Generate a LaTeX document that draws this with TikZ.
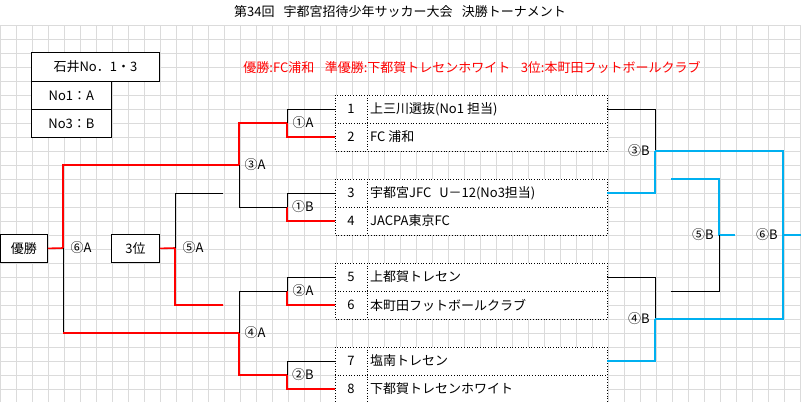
\documentclass[tikz,border=0pt]{standalone}
\usepackage{fontspec}
\setmainfont{Noto Sans CJK JP}
\begin{document}
\begin{tikzpicture}[x=1pt,y=-1pt,
  box/.style={draw=black,fill=white,line width=0.8pt,inner sep=0,anchor=north west,font=\fontsize{13}{14}\selectfont},
  lab/.style={font=\fontsize{13}{14}\selectfont,inner sep=1pt,fill=none},
  team/.style={font=\fontsize{13}{14}\selectfont,anchor=west,inner sep=1pt},
  blk/.style={line width=0.8pt,black},
  rd/.style={line width=1.6pt,red},
  bl/.style={line width=1.6pt,color={rgb,255:red,0;green,176;blue,240}}]
\useasboundingbox (0,0) rectangle (801,402);
\fill[white] (0,0) rectangle (801,402);
\foreach \x in {0,16,...,800} \draw[gray!28,line width=0.7pt] (\x,25) -- (\x,402);
\foreach \y in {25,39,...,402} \draw[gray!28,line width=0.7pt] (0,\y) -- (801,\y);
\fill[white] (0,0) rectangle (801,24.5);
\node[font=\fontsize{13}{14}\selectfont] (title) at (400,12) {第34回\hspace{0.7em}宇都宮招待少年サッカー大会\hspace{0.7em}決勝トーナメント};
% top-left boxes
\node[box,minimum width=128,minimum height=29] (ishii) at (31,52) {石井No．1・3};
\node[box,minimum width=80,minimum height=28] (no1) at (31,81) {No1：A};
\node[box,minimum width=80,minimum height=28] (no3) at (31,109) {No3：B};
\node[red,font=\fontsize{13}{14}\selectfont] (res) at (472,67) {優勝:FC浦和\hspace{0.8em}準優勝:下都賀トレセンホワイト\hspace{0.8em}3位:本町田フットボールクラブ};
% team table
\foreach \t in {95,179,263,347}{
  \fill[white] (335,\t) rectangle (607,\t+56);
  \draw[dotted,line width=0.7pt] (335,\t) rectangle (607,\t+56);
  \draw[dotted,line width=0.7pt] (335,\t+28) -- (607,\t+28);
  \draw[dotted,line width=0.7pt] (367,\t) -- (367,\t+56);
}
\foreach \n/\y/\s in {1/109/上三川選抜(No1 担当),2/137/FC 浦和,3/193/宇都宮JFC\hspace{0.6em}U－12(No3担当),4/221/JACPA東京FC,5/277/上都賀トレセン,6/305/本町田フットボールクラブ,7/361/塩南トレセン,8/389/下都賀トレセンホワイト}{
  \node[font=\fontsize{13}{14}\selectfont] (n\n) at (351,\y) {\n};
  \node[team] (t\n) at (369,\y) {\s};
}
% winner boxes
\node[box,minimum width=47,minimum height=28] (yusho) at (0,234) {優勝};
\node[box,minimum width=48,minimum height=28] (third) at (111,234) {3位};
% first round left
\foreach \a/\b in {109/137,193/221,277/305,361/389}{
  \draw[blk] (335,\a) -- (287,\a) -- (287,{(\a+\b)/2});
  \draw[rd] (287,{(\a+\b)/2}) -- (287,\b) -- (335,\b);
}
% semifinal A
\draw[rd] (287,123) -- (239,123) -- (239,165);
\draw[blk] (239,165) -- (239,207) -- (287,207);
\draw[blk] (287,291) -- (239,291) -- (239,333);
\draw[rd] (239,333) -- (239,375) -- (287,375);
% final A
\draw[rd] (yusho.east) -- (63,248) -- (63,165) -- (239,165);
\draw[blk] (63,248) -- (63,333);
\draw[rd] (63,333) -- (239,333);
% third A
\draw[rd] (third.east) -- (175,248) -- (175,305) -- (223,305);
\draw[blk] (175,248) -- (175,193) -- (223,193);
% right side B
\draw[blk] (607,109) -- (655,109) -- (655,151);
\draw[bl] (655,151) -- (655,193) -- (607,193);
\draw[blk] (607,277) -- (655,277) -- (655,319);
\draw[bl] (655,319) -- (655,361) -- (607,361);
\draw[bl] (655,151) -- (783,151) -- (783,319) -- (655,319);
\draw[bl] (783,235) -- (801,235);
\draw[bl] (671,179) -- (719,179) -- (719,235) -- (735,235);
\draw[blk] (719,235) -- (719,291) -- (671,291);
% labels
\node[lab] (l1a) at (303,123) {①A};
\node[lab] (l1b) at (303,207) {①B};
\node[lab] (l2a) at (303,291) {②A};
\node[lab] (l2b) at (303,375) {②B};
\node[lab] (l3a) at (255,165) {③A};
\node[lab] (l4a) at (255,333) {④A};
\node[lab] (l5a) at (193,248) {⑤A};
\node[lab] (l6a) at (81,248) {⑥A};
\node[lab] (l3b) at (639,151) {③B};
\node[lab] (l4b) at (639,319) {④B};
\node[lab] (l5b) at (703,235) {⑤B};
\node[lab] (l6b) at (767,235) {⑥B};
\end{tikzpicture}
\end{document}
